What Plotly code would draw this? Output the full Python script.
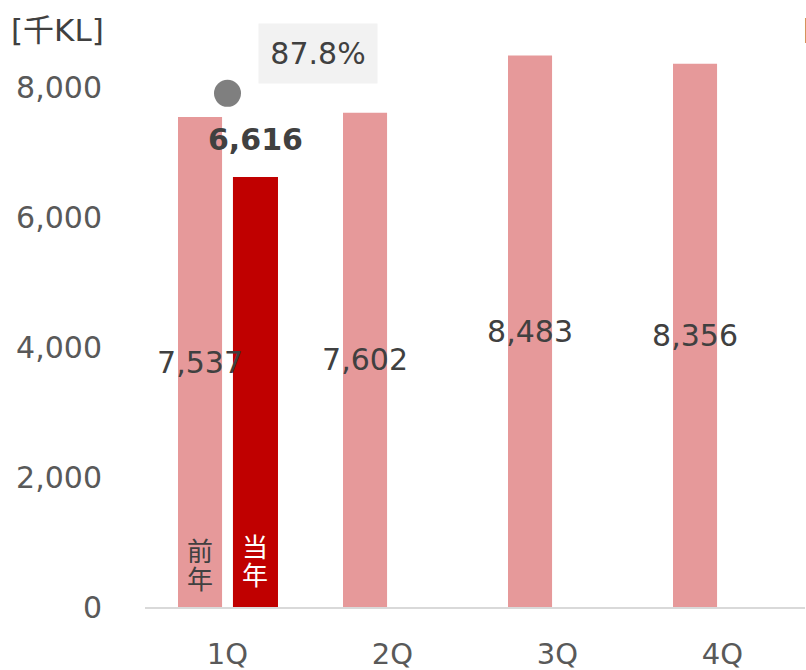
import plotly.graph_objects as go

categories = ["1Q", "2Q", "3Q", "4Q"]
prior_year = [7537, 7602, 8483, 8356]
current_cats = ["1Q"]
current_year = [6616]
ratio_cats = ["1Q"]
ratio_pct = [87.8]
y_tick_vals = [0, 2000, 4000, 6000, 8000]
y_tick_text = ["0", "2,000", "4,000", "6,000", "8,000"]

FONT = "DejaVu Sans, Noto Sans CJK JP, sans-serif"
CJK = "Noto Sans CJK JP, sans-serif"

fig = go.Figure()
fig.add_trace(go.Bar(
    x=current_cats, y=current_year, width=0.273, offset=0.033,
    marker=dict(color="#C00000", line=dict(width=0)),
    showlegend=False, hoverinfo="skip",
))
fig.add_trace(go.Bar(
    x=categories, y=prior_year, width=0.267, offset=-0.30,
    marker=dict(color="#E6999A", line=dict(width=0)),
    text=[f"{v:,}" for v in prior_year], textposition="inside", textangle=0,
    insidetextanchor="middle", constraintext="none",
    textfont=dict(family=FONT, size=30, color="#404040"),
    cliponaxis=False, showlegend=False, hoverinfo="skip",
))
fig.add_trace(go.Scatter(
    x=ratio_cats, y=ratio_pct, yaxis="y2", mode="markers",
    marker=dict(size=27, color="#7F7F7F"), showlegend=False, hoverinfo="skip",
    cliponaxis=False,
))

annotations = []
# current-year value label
for c, v in zip(current_cats, current_year):
    annotations.append(dict(x=c, y=v, xref="x", yref="y", text=f"<b>{v:,}</b>",
                            showarrow=False, xshift=28, yanchor="bottom", yshift=18,
                            font=dict(family=FONT, size=30, color="#404040")))
# ratio label with grey box
for c, r in zip(ratio_cats, ratio_pct):
    annotations.append(dict(x=c, y=r, xref="x", yref="y2", text=f"{r}%",
                            showarrow=False, xshift=90, yshift=40,
                            width=118, height=59, bgcolor="#F2F2F2", borderpad=0,
                            font=dict(family=FONT, size=30, color="#404040")))
# in-bar vertical labels
for ch, dy in [("前", 58), ("年", 30)]:
    annotations.append(dict(x="1Q", y=0, xref="x", yref="y", text=ch, showarrow=False,
                            xshift=-27.5, yanchor="middle", yshift=dy,
                            font=dict(family=CJK, size=26, color="#404040")))
for ch, dy in [("当", 62), ("年", 34)]:
    annotations.append(dict(x="1Q", y=0, xref="x", yref="y", text=ch, showarrow=False,
                            xshift=27.5, yanchor="middle", yshift=dy,
                            font=dict(family=CJK, size=26, color="#FFFFFF")))
# unit label
annotations.append(dict(x=0, y=1, xref="paper", yref="paper", text="[千KL]", showarrow=False,
                        xanchor="left", yanchor="middle", xshift=-136, yshift=-8,
                        font=dict(family=FONT, size=31, color="#404040")))
# secondary axis title, clipped at right edge
annotations.append(dict(x=1, y=1, xref="paper", yref="paper", text="[%]", showarrow=False,
                        xanchor="left", yanchor="middle", xshift=-4, yshift=-8,
                        font=dict(family=FONT, size=29, color="#404040")))

fig.update_layout(
    width=806, height=670,
    margin=dict(l=145, r=1, t=22, b=63, autoexpand=False),
    paper_bgcolor="white", plot_bgcolor="white",
    barmode="overlay",
    font=dict(family=FONT, color="#595959"),
    xaxis=dict(type="category", categoryorder="array", categoryarray=categories,
               range=[-0.5, 3.5], showgrid=False, showline=True,
               linecolor="#D9D9D9", linewidth=2, ticks="",
               tickfont=dict(family=FONT, size=29, color="#595959"),
               ticklabelstandoff=20, automargin=False),
    yaxis=dict(range=[0, 9000], tickvals=y_tick_vals, ticktext=y_tick_text,
               showgrid=False, zeroline=False, showline=False, ticks="",
               tickfont=dict(family=FONT, size=30, color="#595959"),
               ticklabelstandoff=42, automargin=False),
    yaxis2=dict(range=[0, 100], overlaying="y", side="right", visible=False),
    annotations=annotations,
)

fig.write_html("out.html", config={"displayModeBar": False},
               post_script="document.body.style.margin='0';document.body.style.overflow='hidden';")
